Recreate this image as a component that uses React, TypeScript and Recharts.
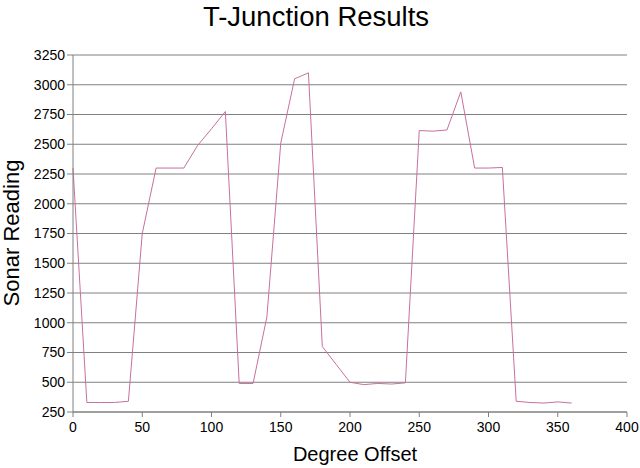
import { CartesianGrid, Line, LineChart, XAxis, YAxis } from "recharts";

const degrees = [
  0, 10, 20, 30, 40, 50, 60, 70, 80, 90, 100, 110, 120, 130, 140, 150, 160, 170,
  180, 190, 200, 210, 220, 230, 240, 250, 260, 270, 280, 290, 300, 310, 320,
  330, 340, 350, 360,
];
const readings = [
  2300, 330, 330, 330, 340, 1750, 2300, 2300, 2300, 2490, 2630, 2775, 490, 490,
  1050, 2510, 3050, 3100, 800, 650, 500, 480, 490, 485, 495, 2615, 2610, 2620,
  2940, 2300, 2300, 2305, 340, 330, 325, 335, 325,
];
const xTicks = [0, 50, 100, 150, 200, 250, 300, 350, 400];
const yTicks = [
  250, 500, 750, 1000, 1250, 1500, 1750, 2000, 2250, 2500, 2750, 3000, 3250,
];

const data = degrees.map((d, i) => ({ degree: d, reading: readings[i] }));

const font = "'Liberation Sans', Arial, sans-serif";

export default function App() {
  return (
    <div
      style={{
        position: "absolute",
        top: 0,
        left: 0,
        width: 640,
        height: 468,
        background: "#fff",
        fontFamily: font,
        color: "#000",
      }}
    >
      <div
        style={{
          position: "absolute",
          top: 3,
          left: 0,
          width: 632,
          textAlign: "center",
          fontSize: 27.5,
          lineHeight: 1,
        }}
      >
        T-Junction Results
      </div>
      <div
        style={{
          position: "absolute",
          top: 444,
          left: 255,
          width: 200,
          textAlign: "center",
          fontSize: 20,
          lineHeight: 1,
        }}
      >
        Degree Offset
      </div>
      <div
        style={{
          position: "absolute",
          top: 232.5 - 11,
          left: 11.6 - 100,
          width: 200,
          height: 22,
          textAlign: "center",
          fontSize: 22,
          lineHeight: "22px",
          transform: "rotate(-90deg)",
          whiteSpace: "nowrap",
        }}
      >
        Sonar Reading
      </div>
      <LineChart
        width={640}
        height={468}
        data={data}
        margin={{ top: 55, right: 13, left: 0, bottom: 0 }}
      >
        <CartesianGrid vertical={false} stroke="#808080" />
        <XAxis
          dataKey="degree"
          type="number"
          domain={[0, 400]}
          ticks={xTicks}
          height={56}
          stroke="#808080"
          tickSize={5}
          tickMargin={5}
          tick={{ fill: "#000", fontSize: 14, fontFamily: font }}
        />
        <YAxis
          type="number"
          domain={[250, 3250]}
          ticks={yTicks}
          width={73}
          stroke="#808080"
          tickSize={6}
          tickMargin={2}
          tick={{ fill: "#000", fontSize: 14, fontFamily: font }}
        />
        <Line
          dataKey="reading"
          stroke="#c8709c"
          strokeWidth={1}
          dot={false}
          isAnimationActive={false}
        />
      </LineChart>
    </div>
  );
}
